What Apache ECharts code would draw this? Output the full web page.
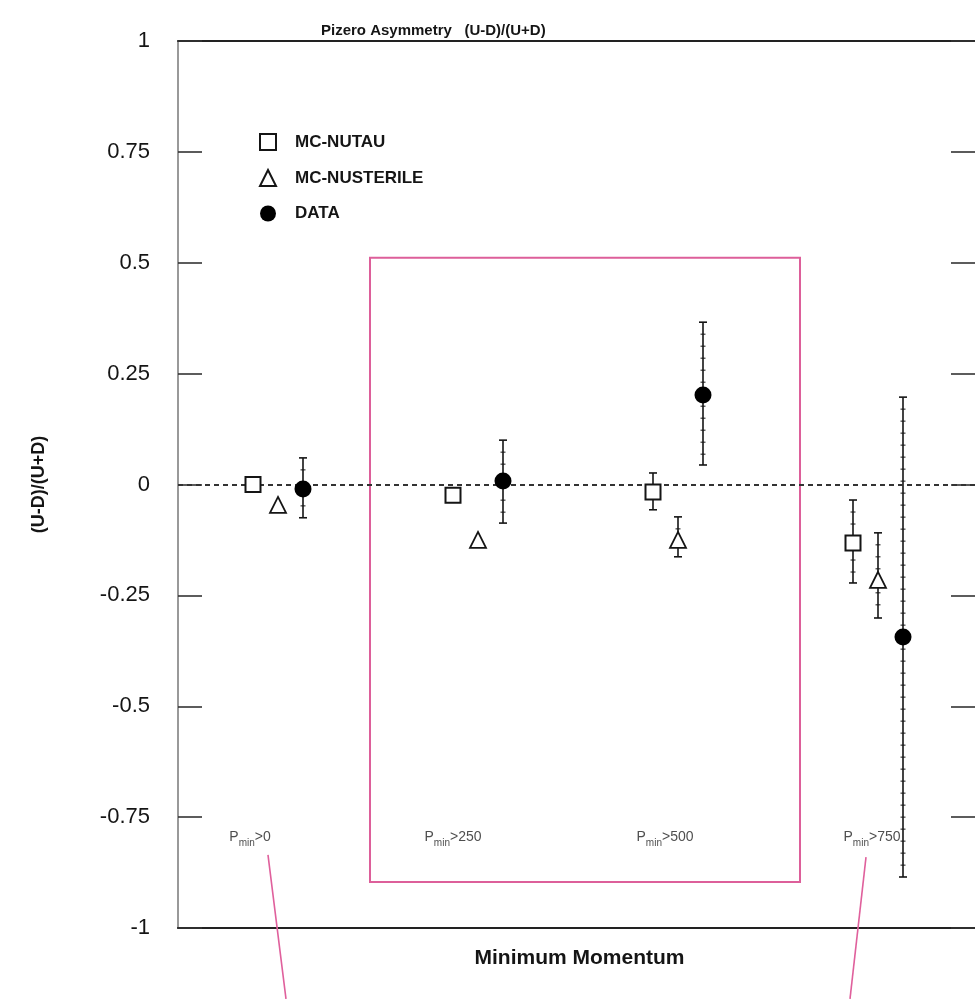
<!DOCTYPE html>
<html>
<head>
<meta charset="utf-8">
<script src="https://cdn.jsdelivr.net/npm/echarts@6/dist/echarts.min.js"></script>
<style>
html,body{margin:0;padding:0;background:#fff;}
#chart{width:975px;height:999px;}
</style>
</head>
<body>
<div id="chart"></div>
<script>
// ---- data ----
const groups = ['0', '250', '500', '750'];            // P_min thresholds
const groupPos = [0, 1, 2, 3];
const offsets = { nutau: -0.125, nusterile: 0, data: 0.125 };

const nutau     = [0.0, -0.024, -0.017, -0.132];
const nutauLo   = [null, null, -0.057, -0.222];
const nutauHi   = [null, null,  0.026, -0.035];

const nusterile   = [-0.046, -0.125, -0.125, -0.215];
const nusterileLo = [null, null, -0.163, -0.301];
const nusterileHi = [null, null, -0.073, -0.109];

const dataVal = [-0.010, 0.008, 0.202, -0.344];
const dataLo  = [-0.075, -0.087, 0.044, -0.885];
const dataHi  = [ 0.060,  0.100, 0.366,  0.197];

const yTicks = [-1, -0.75, -0.5, -0.25, 0, 0.25, 0.5, 0.75, 1];

// annotation positions (data coordinates)
const labelX = [-0.14, 0.875, 1.935, 2.97];
const labelY = -0.8;
const boxX = [0.46, 2.61];
const boxY = [0.511, -0.896];
const pointerLines = [[-0.05, -0.835, 0.04, -1.16], [2.94, -0.84, 2.86, -1.16]];

// ---- build ----
function pts(vals, off) { return vals.map((v, i) => [groupPos[i] + off, v]); }
function errs(lo, hi, off) {
  const out = [];
  lo.forEach((l, i) => { if (l !== null) out.push([groupPos[i] + off, l, hi[i]]); });
  return out;
}

const ink = '#151515';
const font = 'Liberation Sans, Arial, sans-serif';

function errRender(params, api) {
  const x = api.value(0), lo = api.value(1), hi = api.value(2);
  const top = api.coord([x, hi]);
  const bot = api.coord([x, lo]);
  const st = { stroke: ink, lineWidth: 1.6 };
  const children = [
    { type: 'line', shape: { x1: top[0], y1: top[1], x2: bot[0], y2: bot[1] }, style: st },
    { type: 'line', shape: { x1: top[0] - 4, y1: top[1], x2: top[0] + 4, y2: top[1] }, style: st },
    { type: 'line', shape: { x1: bot[0] - 4, y1: bot[1], x2: bot[0] + 4, y2: bot[1] }, style: st }
  ];
  for (let y = top[1] + 12; y < bot[1] - 6; y += 12) {
    children.push({ type: 'line', shape: { x1: top[0] - 2.5, y1: y, x2: top[0] + 2.5, y2: y }, style: { stroke: ink, lineWidth: 1 } });
  }
  return { type: 'group', children };
}

const chart = echarts.init(document.getElementById('chart'), null, { renderer: 'canvas' });

const labelData = groups.map((g, i) => ({ value: [labelX[i], labelY], g }));

const xMin = -0.5, xMax = 3.485;

const option = {
  animation: false,
  backgroundColor: '#ffffff',
  textStyle: { fontFamily: font },
  title: {
    text: 'Pizero Asymmetry   (U-D)/(U+D)',
    left: 316, top: 18,
    textStyle: { fontFamily: font, fontSize: 15, fontWeight: 'bold', color: ink }
  },
  legend: {
    orient: 'vertical',
    left: 254, top: 128,
    itemWidth: 16, itemHeight: 16, itemGap: 18,
    data: ['MC-NUTAU', 'MC-NUSTERILE', 'DATA'],
    textStyle: { fontFamily: font, fontSize: 17, fontWeight: 'bold', color: ink, padding: [0, 0, 0, 14] }
  },
  grid: { left: 178, right: 0, top: 41, bottom: 71, show: false },
  xAxis: [
    {
      type: 'value', min: xMin, max: xMax, position: 'bottom',
      name: 'Minimum Momentum', nameLocation: 'middle', nameGap: 20,
      nameTextStyle: { fontFamily: font, fontSize: 21, fontWeight: 'bold', color: ink, verticalAlign: 'top', padding: [0, 0, 0, 6] },
      axisLine: { show: true, onZero: false, lineStyle: { color: '#222', width: 2.2 } },
      axisTick: { show: false }, axisLabel: { show: false }, splitLine: { show: false }
    },
    {
      type: 'value', min: xMin, max: xMax, position: 'top',
      axisLine: { show: true, onZero: false, lineStyle: { color: '#222', width: 2 } },
      axisTick: { show: false }, axisLabel: { show: false }, splitLine: { show: false }
    }
  ],
  yAxis: [
    {
      type: 'value', min: yTicks[0], max: yTicks[yTicks.length - 1], interval: 0.25,
      name: '(U-D)/(U+D)', nameLocation: 'middle', nameGap: 130, nameRotate: 90,
      nameTextStyle: { fontFamily: font, fontSize: 18, fontWeight: 'bold', color: ink },
      axisLine: { show: true, onZero: false, lineStyle: { color: '#777', width: 1.5 } },
      axisTick: { show: true, inside: true, length: 24, lineStyle: { color: '#333', width: 1.6 } },
      axisLabel: { fontFamily: font, fontSize: 22, color: ink, margin: 28, formatter: v => String(v) },
      splitLine: { show: false }
    },
    {
      type: 'value', position: 'right', min: yTicks[0], max: yTicks[yTicks.length - 1], interval: 0.25,
      axisLine: { show: false, onZero: false },
      axisTick: { show: true, inside: true, length: 24, lineStyle: { color: '#333', width: 1.6 } },
      axisLabel: { show: false }, splitLine: { show: false }
    }
  ],
  series: [
    {
      name: 'frame', type: 'line', data: [], silent: true,
      markLine: {
        silent: true, symbol: 'none', label: { show: false },
        lineStyle: { color: '#333', width: 2.2, type: [5, 4] },
        data: [{ yAxis: 0 }]
      },
      markArea: {
        silent: true, label: { show: false },
        itemStyle: { color: 'rgba(0,0,0,0)', borderColor: '#dd5f9a', borderWidth: 2 },
        data: [[{ coord: [boxX[0], boxY[0]] }, { coord: [boxX[1], boxY[1]] }]]
      }
    },
    {
      name: 'pointers', type: 'custom', silent: true, clip: false,
      data: pointerLines,
      renderItem: (p, api) => {
        const a = api.coord([api.value(0), api.value(1)]);
        const b = api.coord([api.value(2), api.value(3)]);
        return { type: 'line', shape: { x1: a[0], y1: a[1], x2: b[0], y2: b[1] }, style: { stroke: '#e0609c', lineWidth: 1.6 } };
      }
    },
    {
      name: 'labels', type: 'scatter', symbolSize: 0, silent: true,
      data: labelData,
      label: {
        show: true, position: 'inside',
        formatter: p => '{p|P}{s|min}{g|>' + p.data.g + '}',
        rich: {
          p: { fontFamily: font, fontSize: 14, color: '#222', verticalAlign: 'top', lineHeight: 18, padding: [0, 0, 4, 0] },
          s: { fontFamily: font, fontSize: 10, color: '#222', verticalAlign: 'bottom', lineHeight: 18, padding: [4, 0, 0, 0] },
          g: { fontFamily: font, fontSize: 14, color: '#222', verticalAlign: 'top', lineHeight: 18, padding: [0, 0, 4, 0] }
        }
      }
    },
    { name: 'errNutau', type: 'custom', data: errs(nutauLo, nutauHi, offsets.nutau), renderItem: errRender, z: 3 },
    { name: 'errNusterile', type: 'custom', data: errs(nusterileLo, nusterileHi, offsets.nusterile), renderItem: errRender, z: 3 },
    { name: 'errData', type: 'custom', data: errs(dataLo, dataHi, offsets.data), renderItem: errRender, z: 3 },
    {
      name: 'MC-NUTAU', type: 'scatter', symbol: 'rect', symbolSize: 15, z: 5,
      itemStyle: { color: '#ffffff', borderColor: ink, borderWidth: 2, opacity: 1 },
      data: pts(nutau, offsets.nutau)
    },
    {
      name: 'MC-NUSTERILE', type: 'scatter', symbol: 'triangle', symbolSize: 16, z: 5,
      itemStyle: { color: '#ffffff', borderColor: ink, borderWidth: 1.8, opacity: 1 },
      data: pts(nusterile, offsets.nusterile)
    },
    {
      name: 'DATA', type: 'scatter', symbol: 'circle', symbolSize: 17, z: 5,
      itemStyle: { color: '#000000', opacity: 1 },
      data: pts(dataVal, offsets.data)
    }
  ]
};
chart.setOption(option);
</script>
</body>
</html>
